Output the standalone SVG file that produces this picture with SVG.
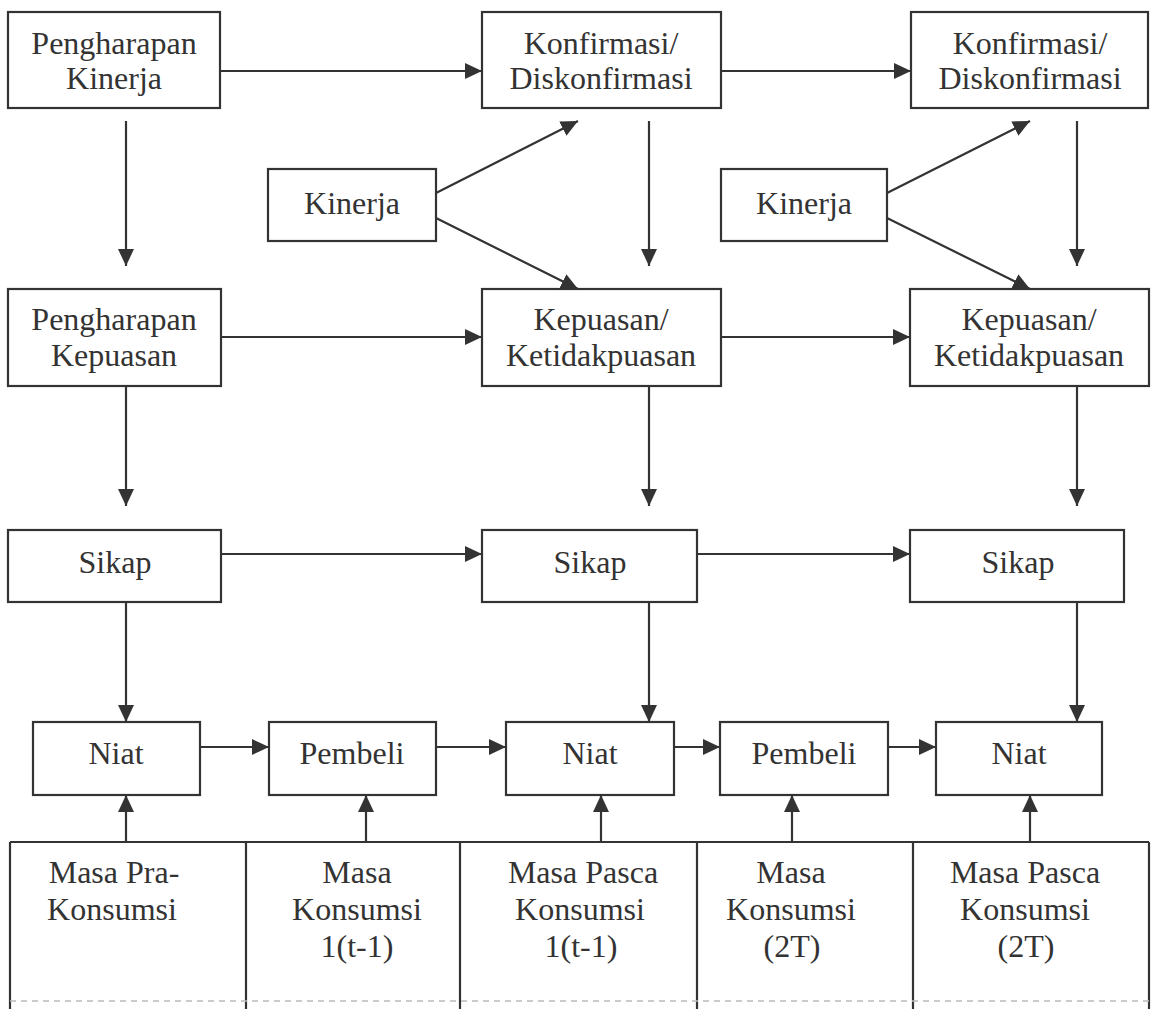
<svg xmlns="http://www.w3.org/2000/svg" width="1154" height="1009" viewBox="0 0 1154 1009">
<defs>
<marker id="ah" markerUnits="userSpaceOnUse" markerWidth="17" markerHeight="16" refX="17" refY="8" orient="auto">
<path d="M0,0 L17,8 L0,16 z" fill="#333"/>
</marker>
<style>
.box{fill:none;stroke:#333;stroke-width:2.2}
.c{stroke:#333;stroke-width:2.2;fill:none;marker-end:url(#ah)}
.tl{stroke:#333;stroke-width:2.2;fill:none}
text{font-family:'Liberation Serif',serif;font-size:32px;fill:#333;text-anchor:middle}
</style>
</defs>
<rect width="1154" height="1009" fill="#fff"/>

<g id="n-pengharapan-kinerja"><rect class="box" x="8" y="12" width="212" height="96"/><text x="114" y="54">Pengharapan</text><text x="114" y="89">Kinerja</text></g>
<g id="n-konfirmasi-1"><rect class="box" x="482" y="12" width="239" height="96"/><text x="601" y="54">Konfirmasi/</text><text x="601" y="89">Diskonfirmasi</text></g>
<g id="n-konfirmasi-2"><rect class="box" x="911" y="12" width="237" height="96"/><text x="1030" y="54">Konfirmasi/</text><text x="1030" y="89">Diskonfirmasi</text></g>

<g id="n-kinerja-1"><rect class="box" x="268" y="169" width="168" height="72"/><text x="352" y="214">Kinerja</text></g>
<g id="n-kinerja-2"><rect class="box" x="721" y="169" width="166" height="72"/><text x="804" y="214">Kinerja</text></g>

<g id="n-pengharapan-kepuasan"><rect class="box" x="8" y="289" width="213" height="97"/><text x="114" y="330">Pengharapan</text><text x="114" y="366">Kepuasan</text></g>
<g id="n-kepuasan-1"><rect class="box" x="482" y="289" width="239" height="97"/><text x="601" y="330">Kepuasan/</text><text x="601" y="366">Ketidakpuasan</text></g>
<g id="n-kepuasan-2"><rect class="box" x="910" y="289" width="239" height="97"/><text x="1029" y="330">Kepuasan/</text><text x="1029" y="366">Ketidakpuasan</text></g>

<g id="n-sikap-1"><rect class="box" x="8" y="530" width="213" height="72"/><text x="115" y="573">Sikap</text></g>
<g id="n-sikap-2"><rect class="box" x="482" y="530" width="215" height="72"/><text x="590" y="573">Sikap</text></g>
<g id="n-sikap-3"><rect class="box" x="910" y="530" width="214" height="72"/><text x="1018" y="573">Sikap</text></g>

<g id="n-niat-1"><rect class="box" x="33" y="722" width="167" height="73"/><text x="116" y="764">Niat</text></g>
<g id="n-pembeli-1"><rect class="box" x="269" y="722" width="167" height="73"/><text x="352" y="764">Pembeli</text></g>
<g id="n-niat-2"><rect class="box" x="506" y="722" width="168" height="73"/><text x="590" y="764">Niat</text></g>
<g id="n-pembeli-2"><rect class="box" x="720" y="722" width="168" height="73"/><text x="804" y="764">Pembeli</text></g>
<g id="n-niat-3"><rect class="box" x="936" y="722" width="166" height="73"/><text x="1019" y="764">Niat</text></g>

<g id="n-masa-table">
<path class="tl" d="M10,842 H1149 M10,842 V1009 M246,842 V1009 M460,842 V1009 M697,842 V1009 M913,842 V1009 M1149,842 V1009"/>
<line x1="10" y1="1001" x2="1149" y2="1001" stroke="#bbb" stroke-width="1.5" stroke-dasharray="6 5"/>
</g>
<g id="n-masa-pra"><text x="114" y="883">Masa Pra-</text><text x="112" y="920">Konsumsi</text></g>
<g id="n-masa-konsumsi-1"><text x="357" y="883">Masa</text><text x="357" y="920">Konsumsi</text><text x="357" y="957">1(t-1)</text></g>
<g id="n-masa-pasca-1"><text x="583" y="883">Masa Pasca</text><text x="580" y="920">Konsumsi</text><text x="581" y="957">1(t-1)</text></g>
<g id="n-masa-konsumsi-2"><text x="791" y="883">Masa</text><text x="791" y="920">Konsumsi</text><text x="792" y="957">(2T)</text></g>
<g id="n-masa-pasca-2"><text x="1025" y="883">Masa Pasca</text><text x="1025" y="920">Konsumsi</text><text x="1026" y="957">(2T)</text></g>

<g id="connectors">
<line class="c" x1="220" y1="71" x2="482" y2="71"/>
<line class="c" x1="721" y1="71" x2="911" y2="71"/>
<line class="c" x1="221" y1="337" x2="482" y2="337"/>
<line class="c" x1="721" y1="337" x2="910" y2="337"/>
<line class="c" x1="221" y1="554" x2="482" y2="554"/>
<line class="c" x1="697" y1="554" x2="910" y2="554"/>
<line class="c" x1="200" y1="747" x2="269" y2="747"/>
<line class="c" x1="436" y1="747" x2="506" y2="747"/>
<line class="c" x1="674" y1="747" x2="720" y2="747"/>
<line class="c" x1="888" y1="747" x2="936" y2="747"/>

<line class="c" x1="126" y1="121" x2="126" y2="266"/>
<line class="c" x1="649" y1="121" x2="649" y2="266"/>
<line class="c" x1="1077" y1="121" x2="1077" y2="266"/>
<line class="c" x1="126" y1="386" x2="126" y2="506"/>
<line class="c" x1="649" y1="386" x2="649" y2="506"/>
<line class="c" x1="1077" y1="386" x2="1077" y2="506"/>
<line class="c" x1="126" y1="602" x2="126" y2="722"/>
<line class="c" x1="649" y1="602" x2="649" y2="722"/>
<line class="c" x1="1077" y1="602" x2="1077" y2="722"/>

<line class="c" x1="436" y1="193" x2="578" y2="121"/>
<line class="c" x1="436" y1="218" x2="578" y2="289"/>
<line class="c" x1="887" y1="193" x2="1030" y2="121"/>
<line class="c" x1="887" y1="218" x2="1030" y2="289"/>

<line class="c" x1="126" y1="842" x2="126" y2="795"/>
<line class="c" x1="366" y1="842" x2="366" y2="795"/>
<line class="c" x1="601" y1="842" x2="601" y2="795"/>
<line class="c" x1="792" y1="842" x2="792" y2="795"/>
<line class="c" x1="1030" y1="842" x2="1030" y2="795"/>
</g>
</svg>
